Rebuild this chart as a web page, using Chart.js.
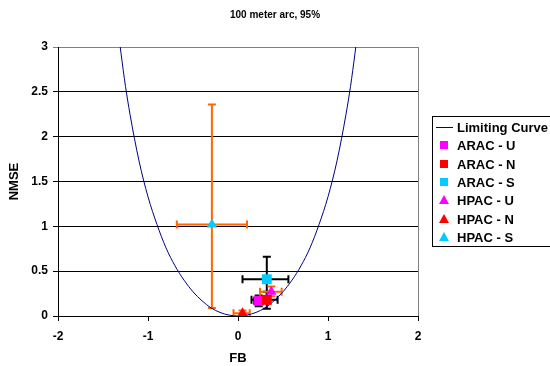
<!DOCTYPE html>
<html>
<head>
<meta charset="utf-8">
<script src="https://cdn.jsdelivr.net/npm/chart.js@4"></script>
<style>
  html, body { margin: 0; padding: 0; background: #fff; }
  #wrap { width: 550px; height: 366px; }
</style>
</head>
<body>
<div id="wrap"><canvas id="chart"></canvas></div>
<script>
// limiting curve
const curveFB = [-1.33, -1.3, -1.25, -1.2, -1.1, -1.0, -0.9, -0.8, -0.7, -0.6, -0.5, -0.4, -0.3, -0.2, -0.1, 0,
                 0.1, 0.2, 0.3, 0.4, 0.5, 0.6, 0.7, 0.8, 0.9, 1.0, 1.1, 1.2, 1.25, 1.3, 1.33];
const curveNMSE = [3.17, 2.93, 2.56, 2.25, 1.73, 1.33, 1.02, 0.76, 0.56, 0.4, 0.27, 0.17, 0.09, 0.04, 0.01, 0,
                   0.01, 0.04, 0.09, 0.17, 0.27, 0.4, 0.56, 0.76, 1.02, 1.33, 1.73, 2.25, 2.56, 2.93, 3.17];

const seriesNames = ["ARAC - U", "ARAC - N", "ARAC - S", "HPAC - U", "HPAC - N", "HPAC - S"];
const fbValues   = [0.23, 0.32, 0.32, 0.37, 0.05, -0.29];
const nmseValues = [0.17, 0.18, 0.41, 0.27, 0.03, 1.02];
// 95% confidence ranges
const fbLow    = [0.18, 0.15, 0.05, 0.245, -0.05, -0.68];
const fbHigh   = [0.28, 0.44, 0.56, 0.485, 0.13, 0.10];
const nmseLow  = [0.11, 0.08, 0.20, 0.22, 0.0, 0.09];
const nmseHigh = [0.23, 0.27, 0.66, 0.33, 0.06, 2.36];

const markerColors = ["#FF00FF", "#FF0000", "#00CCFF", "#FF00FF", "#FF0000", "#00CCFF"];
const markerShapes = ["rect", "rect", "rect", "triangle", "triangle", "triangle"];
const barColors = ["#000000", "#000000", "#000000", "#FF6600", "#FF6600", "#FF6600"];

const FONT = "'Liberation Sans', Arial, sans-serif";

const datasets = [{
  label: "Limiting Curve",
  type: "line",
  data: curveFB.map((x, i) => ({ x: x, y: curveNMSE[i] })),
  borderColor: "#000080",
  borderWidth: 1,
  pointRadius: 0,
  cubicInterpolationMode: "monotone",
  fill: false,
  order: 10
}];
seriesNames.forEach((name, i) => {
  datasets.push({
    label: name,
    data: [{ x: fbValues[i], y: nmseValues[i] }],
    pointStyle: markerShapes[i],
    pointRadius: markerShapes[i] === "rect" ? 7 : 6,
    backgroundColor: markerColors[i],
    borderColor: markerColors[i],
    borderWidth: 0,
    order: 6 - i
  });
});

const errorBars = {
  id: "errorBars",
  beforeDatasetsDraw(chart) {
    const ctx = chart.ctx;
    const xs = chart.scales.x, ys = chart.scales.y;
    const cap = 4;
    ctx.save();
    ctx.beginPath();
    ctx.rect(chart.chartArea.left, chart.chartArea.top - 2, chart.chartArea.width, chart.chartArea.height + 2);
    ctx.clip();
    ctx.lineWidth = 2;
    for (let i = 0; i < seriesNames.length; i++) {
      ctx.strokeStyle = barColors[i];
      const px = xs.getPixelForValue(fbValues[i]);
      const py = ys.getPixelForValue(nmseValues[i]);
      const x0 = xs.getPixelForValue(fbLow[i]), x1 = xs.getPixelForValue(fbHigh[i]);
      const y0 = ys.getPixelForValue(nmseLow[i]), y1 = ys.getPixelForValue(nmseHigh[i]);
      ctx.beginPath();
      ctx.moveTo(x0, py); ctx.lineTo(x1, py);
      ctx.moveTo(x0, py - cap); ctx.lineTo(x0, py + cap);
      ctx.moveTo(x1, py - cap); ctx.lineTo(x1, py + cap);
      ctx.moveTo(px, y0); ctx.lineTo(px, y1);
      ctx.moveTo(px - cap, y0); ctx.lineTo(px + cap, y0);
      ctx.moveTo(px - cap, y1); ctx.lineTo(px + cap, y1);
      ctx.stroke();
    }
    ctx.restore();
  }
};

const frame = {
  id: "frame",
  afterDraw(chart) {
    const ctx = chart.ctx;
    const a = chart.chartArea;
    ctx.save();
    // right border of plot area
    ctx.strokeStyle = "#808080";
    ctx.lineWidth = 1;
    ctx.beginPath();
    ctx.moveTo(Math.round(a.right) + 0.5, a.top);
    ctx.lineTo(Math.round(a.right) + 0.5, a.bottom);
    ctx.stroke();

    // title
    ctx.fillStyle = "#000";
    ctx.font = "bold 10px " + FONT;
    ctx.textAlign = "center";
    ctx.textBaseline = "middle";
    ctx.fillText("100 meter arc, 95%", 275, 15);

    // legend
    const lx = 432.5, ly = 116.5, lh = 130;
    ctx.strokeStyle = "#000";
    ctx.lineWidth = 1;
    ctx.strokeRect(lx, ly, 140, lh);
    ctx.font = "bold 13px " + FONT;
    ctx.textAlign = "left";
    const rowY = [127, 145, 164, 182, 200, 219, 237];
    chart.data.datasets.forEach((ds, i) => {
      const y = rowY[i];
      if (i === 0) {
        ctx.strokeStyle = ds.borderColor;
        ctx.beginPath();
        ctx.moveTo(436, y + 0.5); ctx.lineTo(453, y + 0.5);
        ctx.stroke();
      } else {
        ctx.fillStyle = ds.backgroundColor;
        ctx.beginPath();
        if (ds.pointStyle === "rect") {
          ctx.rect(440, y - 4, 8, 8);
        } else {
          ctx.moveTo(444, y - 5); ctx.lineTo(449, y + 4); ctx.lineTo(439, y + 4); ctx.closePath();
        }
        ctx.fill();
      }
      ctx.fillStyle = "#000";
      ctx.fillText(ds.label, 457, y + 1);
    });
    ctx.restore();
  }
};

new Chart(document.getElementById("chart"), {
  type: "scatter",
  data: { datasets: datasets },
  plugins: [errorBars, frame],
  options: {
    responsive: true,
    maintainAspectRatio: false,
    animation: false,
    layout: { padding: { top: 47, right: 132, bottom: 0, left: 0 } },
    plugins: {
      legend: { display: false },
      title: { display: false },
      tooltip: { enabled: false }
    },
    scales: {
      x: {
        type: "linear",
        min: -2, max: 2,
        afterFit(scale) { scale.height = 50; },
        border: { color: "#000", width: 1 },
        grid: { drawOnChartArea: false, drawTicks: true, tickLength: 5, color: "#000" },
        ticks: { stepSize: 1, color: "#000", padding: 8, font: { family: FONT, size: 12, weight: "bold" },
                 callback: (v) => String(v) },
        title: { display: true, text: "FB", color: "#000", padding: { top: 0, bottom: 0 },
                 font: { family: FONT, size: 13, weight: "bold" } }
      },
      y: {
        type: "linear",
        min: 0, max: 3,
        afterFit(scale) { scale.width = 58; },
        border: { color: "#000", width: 1 },
        grid: {
          tickLength: 5,
          color: (c) => (c.tick && c.tick.value === 3 ? "#808080" : "#000"),
          lineWidth: 1
        },
        ticks: { stepSize: 0.5, color: "#000", padding: 5, font: { family: FONT, size: 12, weight: "bold" },
                 callback: (v) => String(v) },
        title: { display: true, text: "NMSE", color: "#000", padding: { top: 7, bottom: 0 },
                 font: { family: FONT, size: 13, weight: "bold" } }
      }
    }
  }
});
</script>
</body>
</html>
